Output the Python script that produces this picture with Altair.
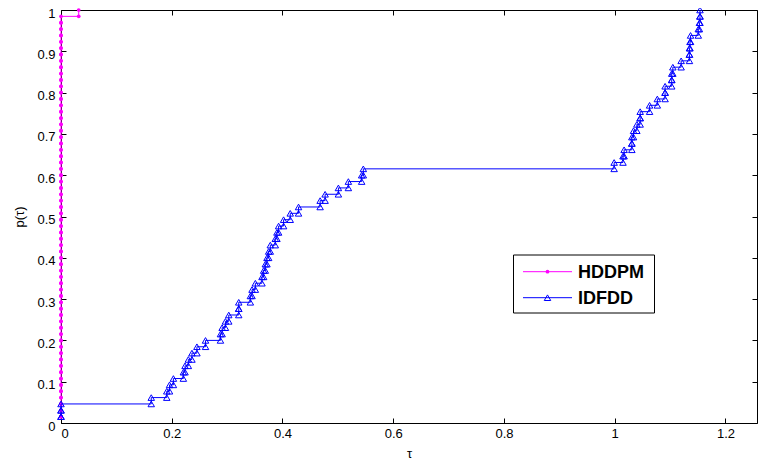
import altair as alt
import pandas as pd

# ---------------- data ----------------
series_names = ["HDDPM", "IDFDD"]
series_colors = ["#ff00ff", "#0000ff"]

# performance ratios (log scale tau) of 65 problems, sorted
hddpm_tau = [0.0] * 64 + [0.032]
idfdd_tau = [
    0.0, 0.0, 0.0,
    0.163, 0.191, 0.196, 0.203, 0.221, 0.224, 0.230, 0.2365, 0.2455, 0.261,
    0.288, 0.291, 0.297, 0.303, 0.321, 0.321, 0.342, 0.345, 0.351, 0.363,
    0.366, 0.369, 0.372, 0.375, 0.378, 0.387, 0.390, 0.393, 0.402, 0.414,
    0.429, 0.468, 0.477, 0.501, 0.519, 0.543, 0.546,
    0.999, 1.015, 1.017, 1.031, 1.031, 1.034, 1.040, 1.046, 1.046, 1.063,
    1.077, 1.091, 1.091, 1.103, 1.103, 1.105, 1.120, 1.135, 1.135, 1.136,
    1.137, 1.151, 1.153, 1.154, 1.154,
]

x_ticks = [0, 0.2, 0.4, 0.6, 0.8, 1.0, 1.2]
y_ticks = [0, 0.1, 0.2, 0.3, 0.4, 0.5, 0.6, 0.7, 0.8, 0.9, 1.0]
x_domain = [0, 1.257]
y_domain = [0, 1]


def stairs(taus, name):
    n = len(taus)
    rows = [{"tau": taus[0], "p": 1 / n, "i": 0, "series": name}]
    k = 1
    for j in range(1, n):
        rows.append({"tau": taus[j], "p": j / n, "i": k, "series": name})
        k += 1
        rows.append({"tau": taus[j], "p": (j + 1) / n, "i": k, "series": name})
        k += 1
    return pd.DataFrame(rows)


df_h = stairs(hddpm_tau, series_names[0])
df_i = stairs(idfdd_tau, series_names[1])

FONT = "Liberation Sans"
xscale = alt.Scale(domain=x_domain, nice=False, zero=False)
yscale = alt.Scale(domain=y_domain, nice=False, zero=False)

ax_bottom = alt.Axis(orient="bottom", values=x_ticks, format="~g", offset=-5, tickSize=5,
                     domain=False, grid=False, labelPadding=4, title="τ", titlePadding=7,
                     labelFontSize=13, titleFontSize=13, labelColor="black", titleColor="black",
                     tickColor="black", labelFont=FONT, titleFont=FONT, titleFontWeight="normal")
ax_left = alt.Axis(orient="left", values=y_ticks, format="~g", offset=-5, tickSize=5,
                   domain=False, grid=False, labelPadding=6, title="p(τ)", titlePadding=10,
                   labelOffset=3,
                   labelFontSize=13, titleFontSize=13, labelColor="black", titleColor="black",
                   tickColor="black", labelFont=FONT, titleFont=FONT, titleFontWeight="normal")
ax_top = alt.Axis(orient="top", values=x_ticks, labels=False, offset=-5, tickSize=5,
                  domain=False, grid=False, title=None, tickColor="black")
ax_right = alt.Axis(orient="right", values=y_ticks, labels=False, offset=-5, tickSize=5,
                    domain=False, grid=False, title=None, tickColor="black")

h_line = alt.Chart(df_h).mark_line(color=series_colors[0], strokeWidth=1, clip=False).encode(
    x=alt.X("tau:Q", scale=xscale, axis=ax_bottom),
    y=alt.Y("p:Q", scale=yscale, axis=ax_left),
    order=alt.Order("i:Q"),
)
h_pts = alt.Chart(df_h).mark_point(shape="circle", filled=True, color=series_colors[0],
                                   size=14, opacity=1).encode(
    x=alt.X("tau:Q", scale=xscale, axis=ax_top),
    y=alt.Y("p:Q", scale=yscale, axis=ax_right),
)
i_line = alt.Chart(df_i).mark_line(color=series_colors[1], strokeWidth=1, clip=False).encode(
    x=alt.X("tau:Q", scale=xscale, axis=None),
    y=alt.Y("p:Q", scale=yscale, axis=None),
    order=alt.Order("i:Q"),
)
i_pts = alt.Chart(df_i).mark_point(shape="triangle-up", filled=False, color=series_colors[1],
                                   size=42, strokeWidth=1, opacity=1).encode(
    x=alt.X("tau:Q", scale=xscale, axis=None),
    y=alt.Y("p:Q", scale=yscale, axis=None),
)

# ---------------- legend (drawn manually, MATLAB style) ----------------
one = pd.DataFrame({"a": [0]})
leg_box = alt.Chart(one).mark_rect(fill="white", stroke="black", strokeWidth=1).encode(
    x=alt.value(452.5), x2=alt.value(593.5), y=alt.value(245), y2=alt.value(303)
)
legend_layers = [leg_box]
leg_rows = [261.7, 287.7]
leg_shapes = ["circle", "triangle-up"]
leg_filled = [True, False]
leg_sizes = [14, 42]
for name, col, yy, shp, fl, sz in zip(series_names, series_colors, leg_rows, leg_shapes,
                                       leg_filled, leg_sizes):
    legend_layers.append(alt.Chart(one).mark_rule(color=col, strokeWidth=1).encode(
        x=alt.value(462), x2=alt.value(511), y=alt.value(yy)))
    legend_layers.append(alt.Chart(one).mark_point(shape=shp, filled=fl, color=col, size=sz,
                                                   opacity=1, strokeWidth=1).encode(
        x=alt.value(486.5), y=alt.value(yy)))
    legend_layers.append(alt.Chart(one).mark_text(align="left", baseline="middle", font=FONT,
                                                  fontSize=18, fontWeight="bold",
                                                  color="black").encode(
        x=alt.value(517), y=alt.value(yy + 1), text=alt.value(name)))

chart = alt.layer(h_line, h_pts, i_line, i_pts, *legend_layers).resolve_axis(
    x="independent", y="independent"
).properties(
    width=696, height=413,
    autosize=alt.AutoSizeParams(type="none"),
    padding={"left": 53, "top": 2, "right": 2, "bottom": 36},
    background="white",
).configure_view(stroke="black", strokeWidth=1)

chart.save("out.html", embed_options={"renderer": "svg", "actions": False})
